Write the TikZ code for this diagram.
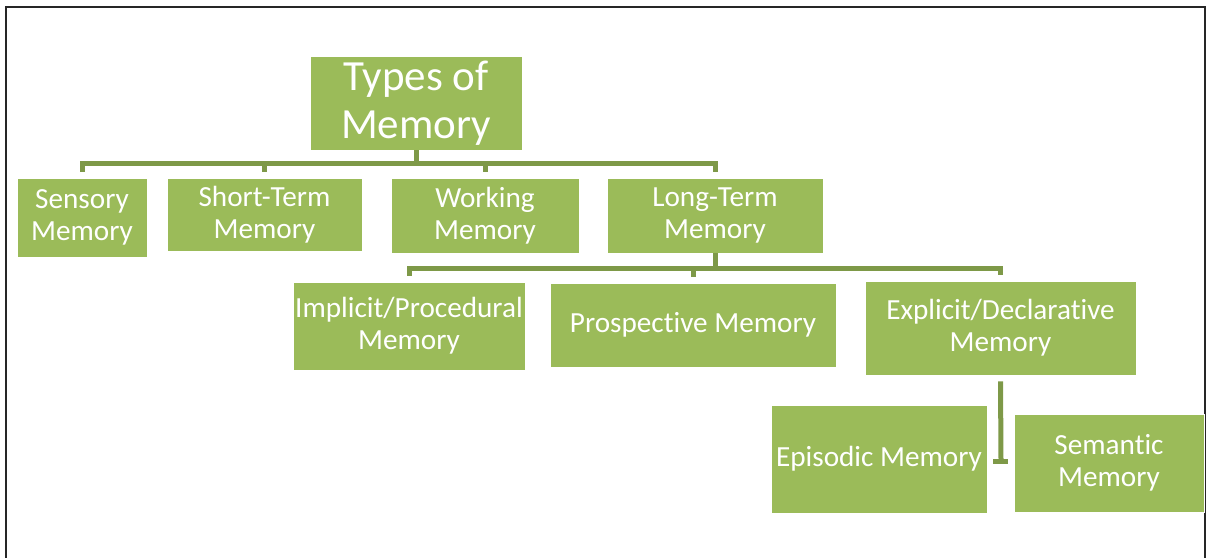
\documentclass[tikz,border=0pt]{standalone}
\usepackage{fontspec}
\setmainfont{Carlito}[Ligatures=NoCommon]
\tikzstyle{box} = [rectangle, fill=green1, draw=white, line width=0.4pt, text=white, align=center, inner sep=0pt, font=\fontsize{14.6}{16}\selectfont]
\tikzstyle{link} = [draw=green2, line width=2.5pt]
\definecolor{green1}{RGB}{155,187,89}
\definecolor{green2}{RGB}{126,153,72}
\usetikzlibrary{positioning}

\begin{document}
\begin{tikzpicture}[x=0.5pt, y=-0.5pt]
    \useasboundingbox (0,0) rectangle (1208,557);

    % frame
    \draw[line width=1pt, black!85] (6,570) |- (1205,7) -- (1205,570);

    % boxes
    \node[box, minimum width=106pt, minimum height=47pt, font=\fontsize{21.5}{24}\selectfont] (title) at (416,103) {Types of\\Memory};
    \node[box, minimum width=65pt, minimum height=39.5pt] (sensory) at (82,217.5) {Sensory\\Memory};
    \node[box, minimum width=97.5pt, minimum height=36.5pt] (short) at (264.5,214.5) {Short-Term\\Memory};
    \node[box, minimum width=94pt, minimum height=37.5pt] (working) at (485,215.5) {Working\\Memory};
    \node[box, minimum width=108pt, minimum height=37.5pt] (long) at (715,215.5) {Long-Term\\Memory};
    \node[box, minimum width=116pt, minimum height=44pt] (implicit) at (409,326) {Implicit/Procedural\\Memory};
    \node[box, minimum width=143pt, minimum height=42pt] (prospective) at (693,325) {Prospective Memory};
    \node[box, minimum width=135.5pt, minimum height=47pt] (explicit) at (1000.5,328) {Explicit/Declarative\\Memory};
    \node[box, minimum width=108pt, minimum height=54pt] (episodic) at (879,459) {Episodic Memory};
    \node[box, minimum width=95pt, minimum height=49pt] (semantic) at (1109,463) {Semantic\\Memory};

    \coordinate (bus1) at (416,163);
    \coordinate (bus2) at (715,268);
    \coordinate (stub) at (1001,461);

    % first level
    \draw[link] (title.south) -- (bus1);
    \draw[link] ([yshift=3pt]sensory.north) |- (bus1 -| long) -- ([yshift=3pt]long.north);
    \foreach \n in {short, working}
        \draw[link] (\n |- bus1) -- ([yshift=3pt]\n.north);

    % long-term
    \draw[link] (long.south) -- (bus2);
    \draw[link] ([yshift=3pt]implicit.north) |- (bus2 -| explicit) -- ([yshift=3pt]explicit.north);
    \draw[link] (prospective |- bus2) -- ([yshift=3pt]prospective.north);

    % explicit
    \draw[link] ([yshift=-3pt]explicit.south) -- (stub);
    \draw[link] (stub) ++(-8,0) -- ++(15,0);
\end{tikzpicture}
\end{document}
